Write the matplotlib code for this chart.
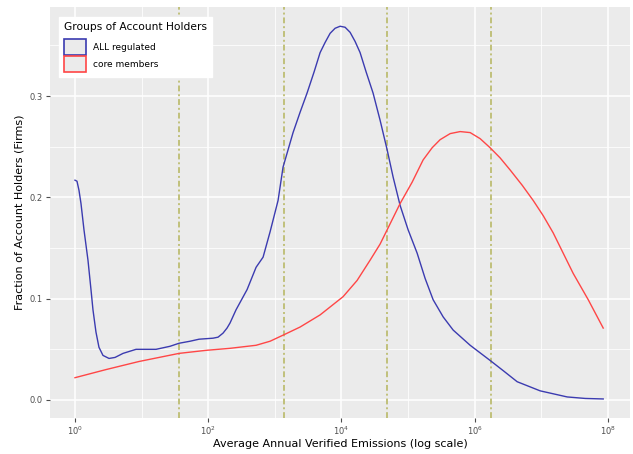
import numpy as np
import matplotlib
matplotlib.use("Agg")
import matplotlib.pyplot as plt
from matplotlib.patches import Patch
from matplotlib.ticker import FixedLocator, NullFormatter

# log10 of average annual verified emissions, and density values
all_x = [0.000, 0.030, 0.060, 0.090, 0.135, 0.195, 0.240, 0.270, 0.315, 0.360,
         0.420, 0.511, 0.601, 0.721, 0.916, 1.216, 1.426, 1.562, 1.727, 1.862,
         2.072, 2.147, 2.222, 2.282, 2.327, 2.417, 2.583, 2.718, 2.823, 2.928,
         3.048, 3.123, 3.273, 3.378, 3.483, 3.589, 3.679, 3.754, 3.829, 3.904,
         3.979, 4.054, 4.129, 4.204, 4.279, 4.369, 4.474, 4.580, 4.685, 4.775,
         4.880, 5.000, 5.135, 5.255, 5.375, 5.526, 5.676, 5.931, 6.231, 6.426,
         6.637, 6.982, 7.387, 7.658, 7.928]
all_y = [0.217, 0.216, 0.207, 0.194, 0.168, 0.138, 0.109, 0.089, 0.067, 0.052,
         0.044, 0.041, 0.042, 0.046, 0.050, 0.050, 0.053, 0.056, 0.058, 0.060,
         0.061, 0.062, 0.066, 0.071, 0.076, 0.089, 0.109, 0.131, 0.141, 0.166,
         0.197, 0.230, 0.264, 0.284, 0.303, 0.324, 0.343, 0.353, 0.362, 0.367,
         0.369, 0.368, 0.363, 0.354, 0.343, 0.324, 0.303, 0.276, 0.247, 0.220,
         0.192, 0.168, 0.145, 0.120, 0.099, 0.082, 0.069, 0.054, 0.039, 0.029,
         0.018, 0.009, 0.003, 0.0015, 0.001]

core_x = [0.000, 0.465, 0.961, 1.562, 1.967, 2.327, 2.718, 2.928, 3.123, 3.378,
          3.679, 4.024, 4.234, 4.429, 4.580, 4.685, 4.880, 5.060, 5.225, 5.360,
          5.480, 5.631, 5.781, 5.931, 6.081, 6.231, 6.381, 6.532, 6.712, 6.877,
          7.027, 7.177, 7.327, 7.477, 7.703, 7.928]
core_y = [0.022, 0.030, 0.038, 0.046, 0.049, 0.051, 0.054, 0.058, 0.064, 0.072,
          0.084, 0.102, 0.118, 0.138, 0.154, 0.168, 0.194, 0.215, 0.237, 0.249,
          0.257, 0.263, 0.265, 0.264, 0.258, 0.249, 0.239, 0.227, 0.212, 0.197,
          0.182, 0.165, 0.145, 0.125, 0.099, 0.071]

cutoffs = [1.56, 3.13, 4.69, 6.25]
series_labels = ["ALL regulated", "core members"]
x_ticks = [0, 2, 4, 6, 8]
y_ticks = [0.0, 0.1, 0.2, 0.3]

blue = "#3b3bb0"
red = "#ff4646"

plt.rcParams["mathtext.fontset"] = "dejavusans"

fig = plt.figure(figsize=(6.33, 4.54), dpi=100)
ax = fig.add_axes([50 / 633, 1 - 418 / 454, 580 / 633, 411 / 454])
ax.set_facecolor("#ebebeb")

ax.set_xscale("log")
ax.set_xlim(10 ** -0.375, 10 ** 8.33)
ax.set_ylim(-0.0178, 0.388)

ax.xaxis.set_major_locator(FixedLocator([10.0 ** t for t in x_ticks]))
ax.xaxis.set_minor_locator(FixedLocator([10.0 ** t for t in [1, 3, 5, 7]]))
ax.xaxis.set_minor_formatter(NullFormatter())
ax.set_xticklabels([r"$10^{%d}$" % t for t in x_ticks])
ax.set_yticks(y_ticks)
ax.set_yticklabels(["%.1f" % t for t in y_ticks])
ax.yaxis.set_minor_locator(FixedLocator([0.05, 0.15, 0.25, 0.35]))

ax.grid(which="major", color="white", lw=1.1)
ax.grid(which="minor", color="white", lw=0.55)
ax.set_axisbelow(True)
for s in ax.spines.values():
    s.set_visible(False)
ax.tick_params(which="major", length=3, color="#4d4d4d", labelsize=6, labelcolor="#4d4d4d", pad=2)
ax.tick_params(which="minor", length=0)

for c in cutoffs:
    ax.axvline(10 ** c, color="#c0c07a", lw=1.4, dashes=(3, 1.5, 1, 1.5), zorder=1)

ax.plot(10 ** np.array(all_x), all_y, color=blue, lw=1.0, zorder=3)
ax.plot(10 ** np.array(core_x), core_y, color=red, lw=1.0, zorder=3)

ax.set_xlabel("Average Annual Verified Emissions (log scale)", fontsize=8, labelpad=1)
ax.set_ylabel("Fraction of Account Holders (Firms)", fontsize=8, labelpad=4)

handles = [Patch(facecolor="#ebebeb", edgecolor=blue, lw=1.2),
           Patch(facecolor="#ebebeb", edgecolor=red, lw=1.2)]
leg = ax.legend(handles, series_labels, title="Groups of Account Holders",
                loc="upper left", bbox_to_anchor=(9 / 580, 1 - 10 / 411), borderaxespad=0,
                fontsize=6.5, title_fontsize=7.7, frameon=True, fancybox=False,
                framealpha=1, edgecolor="white", handlelength=2.4, handleheight=2.4,
                labelspacing=0.1, borderpad=0.55, handletextpad=0.8)
leg._legend_box.align = "left"
leg._legend_box.sep = 5

fig.savefig("out.png", dpi=100)
